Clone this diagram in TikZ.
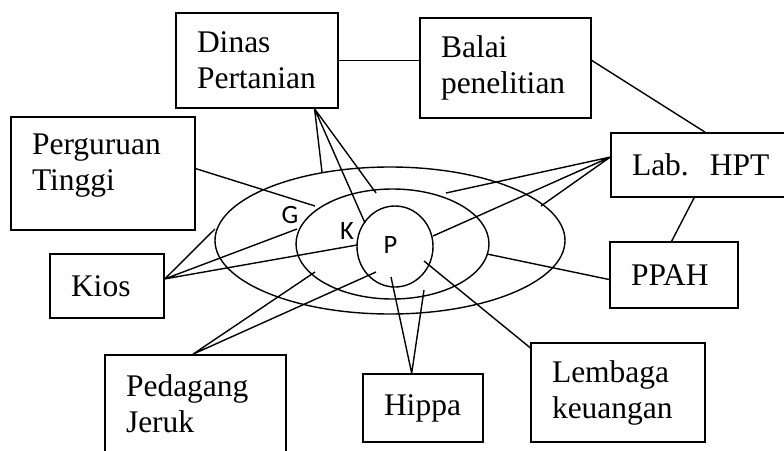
\documentclass[tikz,border=0pt]{standalone}
\usepackage{fontspec}
\setmainfont{Liberation Serif}
\newfontfamily\letterfont{Carlito}

\begin{document}
\begin{tikzpicture}[x=1pt, y=-1pt, line width=1.4pt,
    box/.style={draw, line width=1.6pt, inner xsep=21pt, inner ysep=0pt,
      align=left, font=\fontsize{31.5}{36}\selectfont},
    letter/.style={inner sep=0pt, font=\letterfont\fontsize{26.5}{26.5}\selectfont}]
  \useasboundingbox (0,0) rectangle (784,450);

  \draw (390,240.5) ellipse [x radius=175pt, y radius=73.5pt];
  \draw (392.5,244) ellipse [x radius=96.5pt, y radius=55pt];
  \draw (395,246.5) ellipse [x radius=38pt, y radius=40.5pt];
  \node[letter] (g) at (290,215) {G};
  \node[letter] (k) at (347,231) {K};
  \node[letter] (p) at (390.5,245) {P};

  \node[box, minimum width=162pt, minimum height=95pt, text width=120pt] (dinas) at (257,60.5) {Dinas\\Pertanian};
  \node[box, minimum width=171pt, minimum height=100pt, text width=129pt] (balai) at (505.5,68) {Balai\\penelitian};
  \node[box, minimum width=184pt, minimum height=113pt, text width=142pt, text depth=59pt] (univ) at (103,173.5) {Perguruan\\Tinggi};
  \node[box, minimum width=179pt, minimum height=64pt, text width=137pt] (lab) at (700.5,165) {Lab.~\ HPT};
  \node[box, minimum width=128pt, minimum height=66pt, text width=86pt] (ppah) at (674,275) {PPAH};
  \node[box, minimum width=114pt, minimum height=64pt, text width=72pt] (kios) at (107,286) {Kios};
  \node[box, minimum width=181pt, minimum height=97pt, text width=139pt] (pedagang) at (195.5,403.5) {Pedagang\\Jeruk};
  \node[box, minimum width=120pt, minimum height=68pt, text width=78pt] (hippa) at (423,408) {Hippa};
  \node[box, minimum width=174pt, minimum height=99pt, text width=132pt] (lembaga) at (618,392.5) {Lembaga\\keuangan};

  \coordinate (d1) at (322,172);
  \coordinate (d2) at (365,223);
  \coordinate (d3) at (376,193);
  \coordinate (l1) at (446,193);
  \coordinate (l2) at (433,236);
  \coordinate (l3) at (541,206);
  \coordinate (pp1) at (487,254);
  \coordinate (k1) at (215,229);
  \coordinate (k2) at (297,229);
  \coordinate (k3) at (357,245);
  \coordinate (u1) at (315,206);
  \coordinate (pj1) at (315,272);
  \coordinate (pj2) at (376,272);
  \coordinate (h1) at (391,277);
  \coordinate (h2) at (424,290);
  \coordinate (lm1) at (424,261);

  \draw (dinas.-40) -- (d1) (dinas.-40) -- (d2) (dinas.-40) -- (d3);
  \draw (dinas.east) -- (dinas.east -| balai.west);
  \draw (balai.5) -- (lab.82);
  \draw (lab.175) -- (l1) (lab.175) -- (l2) (lab.175) -- (l3);
  \draw (lab.-101) -- (ppah.94);
  \draw (ppah.184) -- (pp1);
  \draw (kios.7) -- (k1) (kios.7) -- (k2) (kios.7) -- (k3);
  \draw (univ.3) -- (u1);
  \draw (pedagang.93) -- (pj1) (pedagang.93) -- (pj2);
  \draw (hippa.108) -- (h1) (hippa.108) -- (h2);
  \draw (lembaga.153) -- (lm1);
\end{tikzpicture}
\end{document}
